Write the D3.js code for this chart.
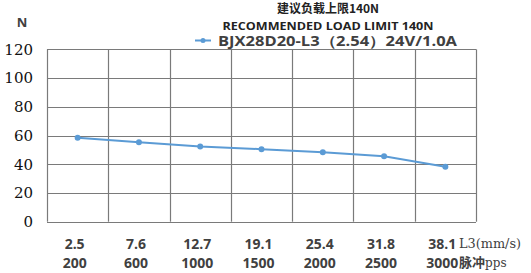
<!DOCTYPE html>
<html><head><meta charset="utf-8">
<script src="https://cdn.jsdelivr.net/npm/d3@7"></script>
<style>body{margin:0;background:#fff}svg{display:block}</style>
</head><body><svg id="c" width="531" height="273"></svg>
<script>
const speeds = ["2.5","7.6","12.7","19.1","25.4","31.8","38.1"];
const pulses = ["200","600","1000","1500","2000","2500","3000"];
const loads = [58.5, 55.3, 52.3, 50.5, 48.3, 45.5, 38.3];
const yTicks = [0,20,40,60,80,100,120];
const titleCN = "建议负载上限140N";
const titleEN = "RECOMMENDED LOAD LIMIT 140N";
const seriesName = "BJX28D20-L3（2.54）24V/1.0A";

const svg = d3.select("#c");
const L = 47, R = 476, T = 49.3, B = 221.7;
const x = d3.scaleBand().domain(speeds.map((d,i)=>i)).range([L,R]);
const y = d3.scaleLinear().domain([0,120]).range([B,T]);
const gridC = "#7a7a7a";
svg.append("g").selectAll("line").data(yTicks).join("line")
  .attr("x1",L).attr("x2",R).attr("y1",d=>Math.round(y(d))+0.5).attr("y2",d=>Math.round(y(d))+0.5)
  .attr("stroke",gridC).attr("stroke-width",1.2);
const vx = d3.range(speeds.length+1).map(i=> i<speeds.length ? x(i) : x(speeds.length-1)+x.bandwidth());
svg.append("g").selectAll("line").data(vx).join("line")
  .attr("x1",d=>Math.round(d)+0.5).attr("x2",d=>Math.round(d)+0.5).attr("y1",y(120)).attr("y2",y(0))
  .attr("stroke",gridC).attr("stroke-width",1.2);
const serif = "DejaVu Serif, serif";
svg.append("g").selectAll("text").data(yTicks).join("text")
  .attr("x",33).attr("y",d=>y(d)).attr("dy","0.36em").attr("text-anchor","end")
  .attr("font-family",serif).attr("font-size",15).attr("fill","#111")
  .text(d=>d);
const lf = "Open Sans, sans-serif";
svg.append("text").attr("x",22).attr("y",27).attr("text-anchor","middle")
  .attr("font-family",lf).attr("font-weight",700).attr("font-size",13).attr("fill","#404040").text("N");
const cx = i => x(i)+x.bandwidth()/2 - 3;
svg.append("g").selectAll("text").data(speeds).join("text")
  .attr("x",(d,i)=>cx(i)).attr("y",249).attr("text-anchor","middle")
  .attr("font-family",lf).attr("font-weight",700).attr("font-size",14).attr("fill","#404040").text(d=>d);
svg.append("g").selectAll("text").data(pulses).join("text")
  .attr("x",(d,i)=>cx(i)).attr("y",268).attr("text-anchor","middle")
  .attr("font-family",lf).attr("font-weight",700).attr("font-size",14).attr("fill","#404040").text(d=>d);
svg.append("text").attr("x",459).attr("y",248).attr("font-family",serif).attr("font-size",12).attr("fill","#404040")
  .attr("textLength",62).attr("lengthAdjust","spacingAndGlyphs").text("L3(mm/s)");
const t2 = svg.append("text").attr("x",459).attr("y",267).attr("font-size",13).attr("fill","#404040");
t2.append("tspan").attr("font-family","Noto Sans CJK SC").attr("font-weight",700).text("脉冲");
t2.append("tspan").attr("font-family",serif).attr("font-size",12).text("pps");
const line = d3.line().x((d,i)=>x(i)+x.bandwidth()/2).y(d=>y(d));
const blue = "#5b9bd5";
svg.append("path").datum(loads).attr("d",line).attr("fill","none").attr("stroke",blue).attr("stroke-width",2);
svg.append("g").selectAll("circle").data(loads).join("circle")
  .attr("cx",(d,i)=>x(i)+x.bandwidth()/2).attr("cy",d=>y(d)).attr("r",3).attr("fill",blue);
svg.append("text").attr("x",328).attr("y",13).attr("text-anchor","middle")
  .attr("font-family","Noto Sans CJK SC").attr("font-weight",700).attr("font-size",12).attr("fill","#222").text(titleCN);
svg.append("text").attr("x",328).attr("y",29.5).attr("text-anchor","middle")
  .attr("font-family",lf).attr("font-weight",700).attr("font-size",11).attr("fill","#222")
  .attr("textLength",211).attr("lengthAdjust","spacingAndGlyphs").text(titleEN);
svg.append("line").attr("x1",195).attr("x2",211).attr("y1",40.5).attr("y2",40.5).attr("stroke",blue).attr("stroke-width",2);
svg.append("circle").attr("cx",203).attr("cy",40.5).attr("r",2.5).attr("fill",blue);
svg.append("text").attr("x",218).attr("y",46).attr("font-family",lf).attr("font-weight",700).attr("font-size",14).attr("fill","#404040")
  .attr("textLength",239).attr("lengthAdjust","spacingAndGlyphs").text(seriesName);
</script></body></html>
